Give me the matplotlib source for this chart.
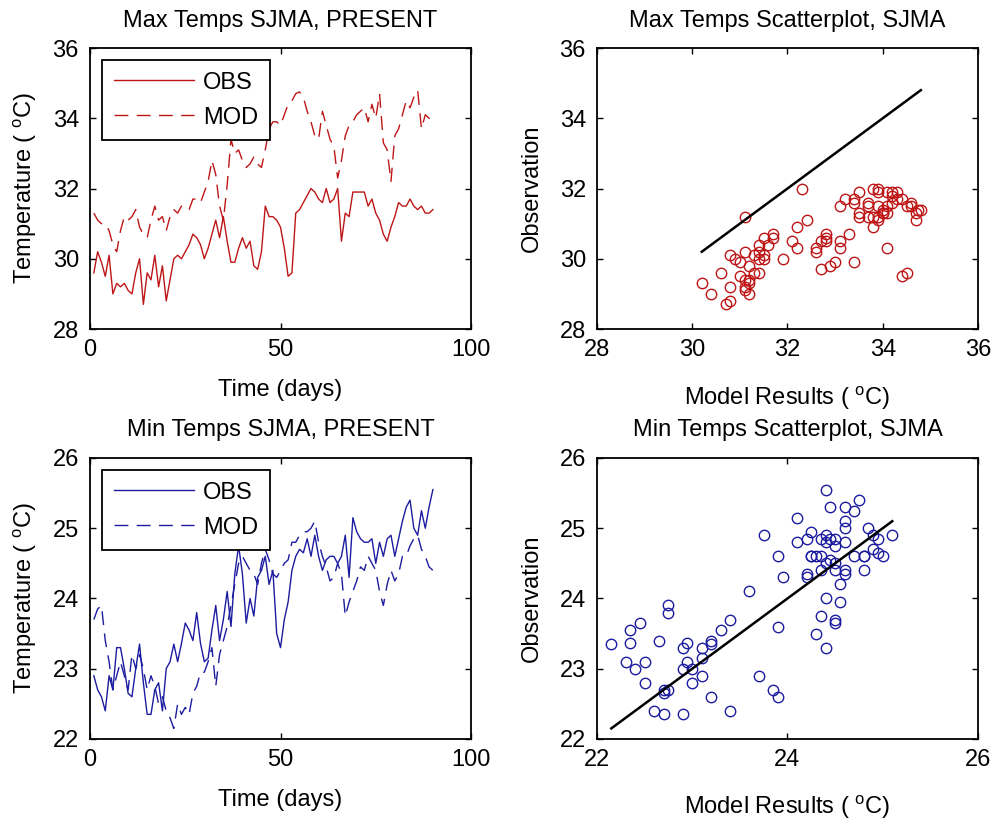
import matplotlib

matplotlib.use("Agg")
import matplotlib.pyplot as plt
import numpy as np

plt.rcParams["font.family"] = ["Liberation Sans", "DejaVu Sans"]
plt.rcParams["mathtext.fontset"] = "custom"
plt.rcParams["mathtext.rm"] = "Liberation Sans"
plt.rcParams["mathtext.it"] = "Liberation Sans"
plt.rcParams["font.size"] = 17

# days of the season
days = np.arange(1, 91)

# daily maximum temperature, observed and modelled (deg C)
max_obs = [
    29.6, 30.2, 29.9, 29.5, 30.1, 29.0, 29.3, 29.2, 29.3, 29.1,
    29.0, 29.6, 30.0, 28.7, 29.6, 29.4, 30.1, 29.2, 29.8, 28.8,
    29.4, 30.0, 30.1, 30.0, 30.2, 30.4, 30.7, 30.6, 30.4, 30.0,
    30.3, 30.7, 31.1, 30.6, 31.2, 30.5, 29.9, 29.9, 30.3, 30.6,
    30.3, 30.5, 29.8, 29.7, 30.2, 31.5, 31.2, 31.2, 31.1, 30.9,
    30.3, 29.5, 29.6, 31.3, 31.4, 31.6, 31.8, 32.0, 31.9, 31.7,
    31.6, 32.0, 31.6, 31.7, 32.0, 30.5, 31.3, 31.2, 31.9, 31.9,
    31.9, 31.9, 31.5, 31.7, 31.3, 31.1, 30.7, 30.5, 30.9, 31.2,
    31.6, 31.5, 31.5, 31.7, 31.5, 31.4, 31.5, 31.3, 31.3, 31.4,
]
max_mod = [
    31.3, 31.1, 31.0, 31.0, 30.8, 30.4, 30.2, 30.8, 31.2, 31.1,
    31.2, 31.4, 30.9, 30.7, 30.6, 31.1, 31.5, 31.1, 31.2, 30.8,
    31.2, 31.4, 31.3, 31.5, 31.4, 31.4, 31.7, 31.7, 31.6, 31.9,
    32.2, 32.8, 32.4, 31.5, 31.1, 32.1, 33.4, 33.0, 33.1, 32.8,
    32.6, 32.7, 32.9, 32.7, 32.6, 33.1, 33.7, 33.9, 33.9, 33.8,
    34.1, 34.4, 34.5, 34.7, 34.75, 34.6, 34.2, 33.9, 33.5, 33.4,
    34.2, 33.8, 33.4, 33.2, 32.3, 32.8, 33.5, 33.8, 33.9, 34.1,
    34.2, 34.3, 33.9, 34.4, 34.0, 34.7, 33.3, 33.1, 32.2, 33.5,
    33.7, 34.1, 34.5, 34.3, 34.6, 34.8, 33.7, 34.1, 34.0, 34.0,
]

# daily minimum temperature, observed and modelled (deg C)
min_obs = [
    22.9, 22.7, 22.6, 22.4, 22.9, 22.7, 23.3, 23.3, 23.0, 22.65,
    22.6, 23.0, 23.35, 22.8, 22.35, 22.35, 22.7, 22.8, 22.4, 23.0,
    23.1, 23.35, 23.1, 23.36, 23.65, 23.55, 23.4, 23.8, 23.36, 23.1,
    23.15, 23.55, 23.9, 23.4, 23.7, 24.1, 23.6, 24.35, 24.75, 24.35,
    23.65, 24.0, 23.75, 24.3, 24.4, 24.6, 24.2, 24.4, 23.5, 23.3,
    23.7, 23.95, 24.4, 24.6, 24.7, 24.65, 24.85, 24.6, 24.9, 24.6,
    24.4, 24.55, 24.6, 24.6, 24.5, 24.6, 24.9, 24.3, 25.15, 24.95,
    24.85, 24.8, 24.8, 24.85, 24.5, 24.8, 24.6, 24.85, 24.9, 24.6,
    24.85, 25.1, 25.3, 25.4, 25.0, 24.9, 25.25, 25.0, 25.3, 25.55,
]
min_mod = [
    23.7, 23.85, 23.9, 23.4, 23.1, 22.7, 22.9, 23.1, 22.9, 22.7,
    23.2, 23.0, 23.2, 23.0, 22.7, 22.9, 22.75, 22.5, 22.6, 22.4,
    22.3, 22.15, 22.5, 22.35, 22.45, 22.35, 22.65, 22.75, 22.95, 22.95,
    23.1, 23.3, 22.75, 23.2, 23.4, 23.6, 23.9, 24.2, 24.5, 24.6,
    24.5, 24.4, 24.35, 24.2, 24.5, 24.7, 24.55, 24.35, 24.3, 24.4,
    24.5, 24.55, 24.8, 24.8, 24.9, 24.95, 24.95, 25.0, 25.1, 24.8,
    24.6, 24.45, 24.25, 24.3, 24.5, 24.35, 23.75, 23.95, 24.1, 24.25,
    24.45, 24.4, 24.6, 24.5, 24.4, 24.1, 23.9, 24.2, 24.4, 24.25,
    24.35, 24.6, 24.6, 24.75, 24.85, 24.9, 24.7, 24.6, 24.45, 24.4,
]

red = "#be1616"
blue = "#1c1ca0"
unit = r"( $^{\mathrm{o}}$C)"


def style_axes(ax):
    ax.tick_params(direction="in", top=True, right=True, length=4, width=1,
                   labelsize=17)
    ax.tick_params(axis="x", pad=7)
    ax.tick_params(axis="y", pad=8)
    for spine in ax.spines.values():
        spine.set_linewidth(1.3)


def time_panel(ax, obs, mod, color, title, ylim, yticks, title_pad):
    ax.plot(days, obs, color=color, lw=1.0, label="OBS")
    ax.plot(days, mod, color=color, lw=1.0, dashes=(10, 6), label="MOD")
    ax.set_xlim(0, 100)
    ax.set_xticks([0, 50, 100])
    ax.set_ylim(*ylim)
    ax.set_yticks(yticks)
    ax.set_title(title, fontsize=17, pad=title_pad)
    ax.set_xlabel("Time (days)", labelpad=13)
    ax.set_ylabel("Temperature " + unit, labelpad=10)
    leg = ax.legend(loc="upper left", fancybox=False, framealpha=1,
                    edgecolor="black", handlelength=3.4, handletextpad=0.4,
                    borderpad=0.5, labelspacing=0.55, borderaxespad=0.5,
                    fontsize=17)
    leg.get_frame().set_linewidth(1.3)
    style_axes(ax)


def scatter_panel(ax, obs, mod, color, title, lim, xticks, yticks, title_pad):
    mod = np.asarray(mod)
    obs = np.asarray(obs)
    ax.plot(mod, obs, "o", mfc="none", mec=color, ms=7.5, mew=1.0)
    one = np.array([mod.min(), mod.max()])
    ax.plot(one, one, color="black", lw=1.8)
    ax.set_xlim(*lim)
    ax.set_ylim(*lim)
    ax.set_xticks(xticks)
    ax.set_yticks(yticks)
    ax.set_title(title, fontsize=17, pad=title_pad)
    ax.set_xlabel("Model Results " + unit, labelpad=17)
    ax.set_ylabel("Observation", labelpad=12)
    style_axes(ax)


fig = plt.figure(figsize=(9.97, 8.24), dpi=100)
w, h = 0.3821, 0.3410
ax_tl = fig.add_axes([0.0903, 0.6007, w, h])
ax_tr = fig.add_axes([0.5988, 0.6007, w, h])
ax_bl = fig.add_axes([0.0903, 0.1032, w, h])
ax_br = fig.add_axes([0.5988, 0.1032, w, h])

time_panel(ax_tl, max_obs, max_mod, red, "Max Temps SJMA, PRESENT",
           (28, 36), [28, 30, 32, 34, 36], 15)
scatter_panel(ax_tr, max_obs, max_mod, red, "Max Temps Scatterplot, SJMA",
              (28, 36), [28, 30, 32, 34, 36], [28, 30, 32, 34, 36], 15)
time_panel(ax_bl, min_obs, min_mod, blue, "Min Temps SJMA, PRESENT",
           (22, 26), [22, 23, 24, 25, 26], 16)
scatter_panel(ax_br, min_obs, min_mod, blue, "Min Temps Scatterplot, SJMA",
              (22, 26), [22, 24, 26], [22, 23, 24, 25, 26], 16)

fig.savefig("out.png", dpi=100)
